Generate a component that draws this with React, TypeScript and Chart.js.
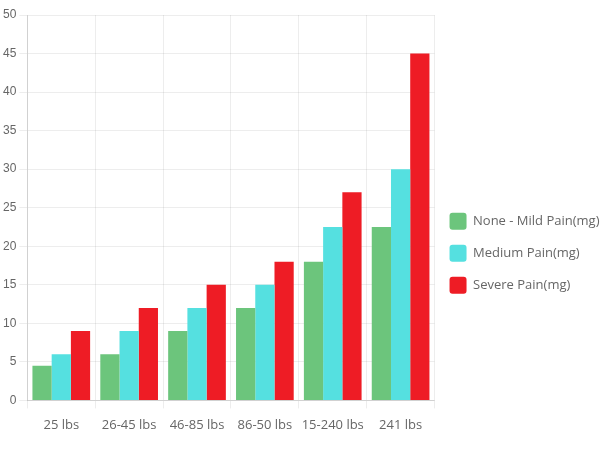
import React, { useEffect, useRef } from "react";
import { Chart, registerables } from "chart.js";

Chart.register(...registerables);

const categories = ["25 lbs", "26-45 lbs", "46-85 lbs", "86-50 lbs", "15-240 lbs", "241 lbs"];
const seriesNames = ["None - Mild Pain(mg)", "Medium Pain(mg)", "Severe Pain(mg)"];
const noneMild = [4.5, 6, 9, 12, 18, 22.5];
const medium = [6, 9, 12, 15, 22.5, 30];
const severe = [9, 12, 15, 18, 27, 45];
const seriesColors = ["#6cc57c", "#55e0e0", "#ee1c25"];

export default function App() {
  const ref = useRef<HTMLCanvasElement | null>(null);
  useEffect(() => {
    let chart: Chart | null = null;
    let cancelled = false;
    const build = () => {
      if (cancelled || !ref.current) return;
      const values = [noneMild, medium, severe];
      chart = new Chart(ref.current, {
        type: "bar",
        data: {
          labels: categories,
          datasets: seriesNames.map((name, i) => ({
            label: name,
            data: values[i],
            backgroundColor: seriesColors[i],
            borderWidth: 0,
            barPercentage: 1,
            categoryPercentage: 0.85,
          })),
        },
        options: {
          animation: false,
          responsive: false,
          maintainAspectRatio: false,
          layout: { padding: { top: 15, right: -9.5, left: 0, bottom: 8 } },
          plugins: {
            tooltip: { enabled: false },
            legend: {
              position: "right",
              align: "center",
              maxWidth: 240,
              title: { display: true, text: " ", padding: { top: 17.5, bottom: 17.5 }, font: { size: 12 } },
              labels: {
                boxWidth: 17,
                boxHeight: 17,
                useBorderRadius: true,
                borderRadius: 3,
                padding: 15,
                color: "#666",
                font: { family: "'Open Sans', sans-serif", size: 13 },
              },
            },
          },
          scales: {
            x: {
              grid: { color: "rgba(0,0,0,0.07)", offset: true, tickLength: 8 },
              border: { color: "rgba(0,0,0,0.12)" },
              ticks: {
                color: "#666",
                padding: 9,
                font: { family: "'Open Sans', sans-serif", size: 13 },
                maxRotation: 0,
              },
            },
            y: {
              min: 0,
              max: 50,
              grid: { color: "rgba(0,0,0,0.07)", tickLength: 8 },
              border: { color: "rgba(0,0,0,0.12)" },
              ticks: {
                stepSize: 5,
                color: "#666",
                padding: 3,
                font: { family: "'Liberation Sans', Arial, sans-serif", size: 12 },
              },
            },
          },
        },
      });
    };
    const fonts = (document as any).fonts;
    if (fonts && fonts.load) {
      Promise.all([
        fonts.load("13px 'Open Sans'"),
        fonts.load("12px 'Liberation Sans'"),
      ]).then(build, build);
    } else {
      build();
    }
    return () => {
      cancelled = true;
      if (chart) chart.destroy();
    };
  }, []);
  return (
    <div style={{ position: "absolute", left: 0, top: 0, width: 600, height: 450, background: "#fff", overflow: "hidden" }}>
      <canvas ref={ref} width={600} height={450} style={{ width: 600, height: 450 }} />
    </div>
  );
}
